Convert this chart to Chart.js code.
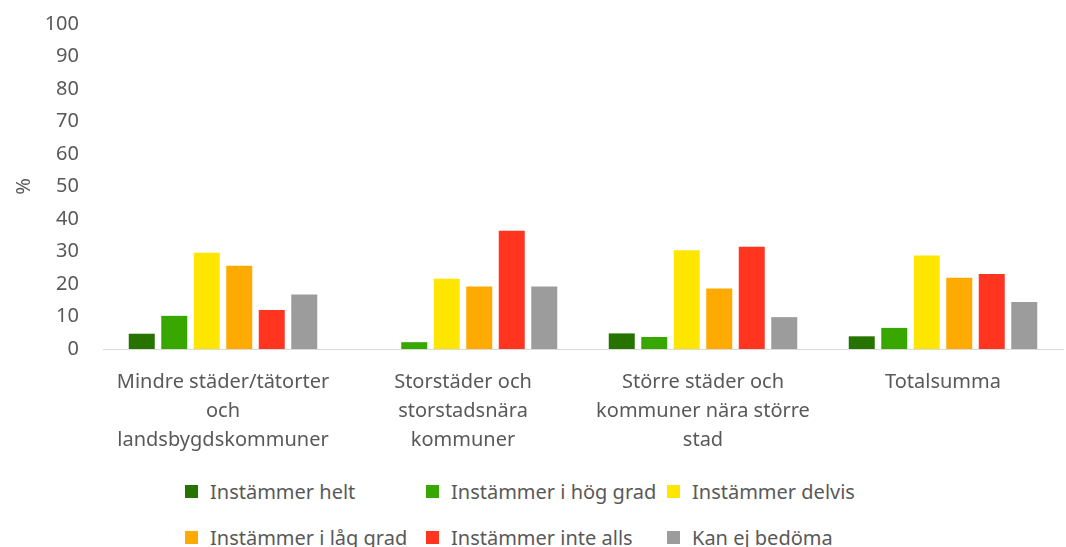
<!DOCTYPE html>
<html lang="sv">
<head>
<meta charset="utf-8">
<script src="https://cdn.jsdelivr.net/npm/chart.js@4.4.0/dist/chart.umd.min.js"></script>
<style>
  html, body { margin: 0; padding: 0; background: #fff; }
  #wrap { position: relative; width: 1066px; height: 547px; overflow: hidden; }
  #chart-box { position: absolute; left: 0; top: -12px; width: 1066px; height: 477px; }
  .legend-item {
    position: absolute; display: flex; align-items: center;
    font-family: "Noto Sans", sans-serif; font-size: 20px; color: #595959; white-space: nowrap;
  }
  .legend-color { width: 13px; height: 13px; margin-right: 12px; }
</style>
</head>
<body>
<div id="wrap">
  <div id="chart-box"><canvas id="chart"></canvas></div>
  <div id="legend"></div>
</div>
<script>
const categories = [
  ["Mindre städer/tätorter", "och", "landsbygdskommuner"],
  ["Storstäder och", "storstadsnära", "kommuner"],
  ["Större städer och", "kommuner nära större", "stad"],
  ["Totalsumma"]
];

const seriesNames = [
  "Instämmer helt",
  "Instämmer i hög grad",
  "Instämmer delvis",
  "Instämmer i låg grad",
  "Instämmer inte alls",
  "Kan ej bedöma"
];

const helt      = [4.7, 0, 4.8, 3.9];
const hogGrad   = [10.2, 2.1, 3.7, 6.5];
const delvis    = [29.6, 21.6, 30.4, 28.8];
const lagGrad   = [25.6, 19.2, 18.6, 21.9];
const inteAlls  = [12.0, 36.4, 31.5, 23.1];
const kanEj     = [16.8, 19.2, 9.8, 14.5];

const yTicks = [0, 10, 20, 30, 40, 50, 60, 70, 80, 90, 100];

const colors = ['#267300', '#38a800', '#ffe600', '#ffaa00', '#ff3520', '#9c9c9c'];
const seriesValues = [helt, hogGrad, delvis, lagGrad, inteAlls, kanEj];

const textColor = '#595959';
const fontFamily = '"Noto Sans", sans-serif';

const ctx = document.getElementById('chart').getContext('2d');
new Chart(ctx, {
  type: 'bar',
  data: {
    labels: categories,
    datasets: seriesNames.map((name, i) => ({
      label: name,
      data: seriesValues[i],
      backgroundColor: colors[i],
      borderWidth: 0,
      categoryPercentage: 0.8125,
      barPercentage: 0.8
    }))
  },
  options: {
    responsive: true,
    maintainAspectRatio: false,
    animation: false,
    layout: { padding: { top: 0, right: 3, left: 0, bottom: 0 } },
    plugins: {
      legend: { display: false },
      tooltip: { enabled: false }
    },
    scales: {
      y: {
        min: 0,
        max: 100,
        afterBuildTicks: (scale) => { scale.ticks = yTicks.map(v => ({ value: v })); },
        afterFit: (scale) => { scale.width = 103; },
        grid: { display: false, drawTicks: false },
        border: { display: false },
        ticks: { color: textColor, font: { family: fontFamily, size: 20 }, padding: 24 },
        title: {
          display: true, text: '%', color: textColor,
          font: { family: fontFamily, size: 20 }, padding: { top: 12, bottom: 0 }
        }
      },
      x: {
        afterFit: (scale) => { scale.height = 116; },
        grid: { display: false, drawTicks: false },
        border: { display: true, color: '#d9d9d9', width: 1 },
        ticks: {
          color: textColor, font: { family: fontFamily, size: 20, lineHeight: 1.45 },
          padding: 19, maxRotation: 0, autoSkip: false
        }
      }
    }
  }
});

// Legend in three fixed columns, like the original
const legend = document.getElementById('legend');
const colX = [185, 426, 667];
const rowY = [478, 524];
seriesNames.forEach((name, i) => {
  const item = document.createElement('div');
  item.className = 'legend-item';
  item.style.left = colX[i % 3] + 'px';
  item.style.top = rowY[Math.floor(i / 3)] + 'px';
  item.innerHTML = `<span class="legend-color" style="background-color: ${colors[i]}"></span><span>${name}</span>`;
  legend.appendChild(item);
});
</script>
</body>
</html>
